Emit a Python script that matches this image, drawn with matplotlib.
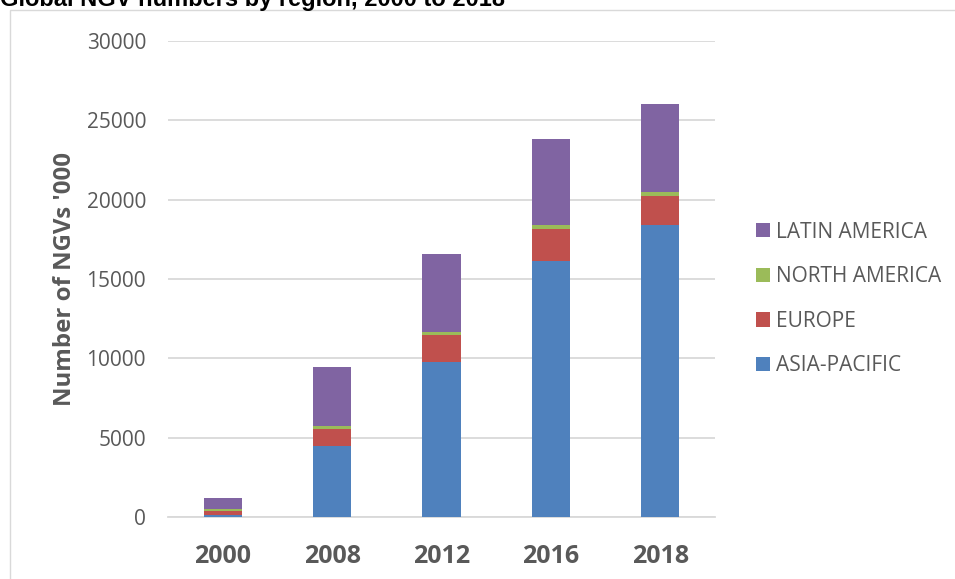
import matplotlib
matplotlib.use("Agg")
import matplotlib.pyplot as plt
from matplotlib.patches import Rectangle
import numpy as np

years = ["2000", "2008", "2012", "2016", "2018"]
asia_pacific = [150, 4480, 9750, 16140, 18400]
europe = [230, 1070, 1740, 2040, 1850]
north_america = [120, 190, 190, 210, 230]
latin_america = [680, 3720, 4880, 5420, 5530]

series = [
    ("ASIA-PACIFIC", asia_pacific, "#4F81BD"),
    ("EUROPE", europe, "#C0504D"),
    ("NORTH AMERICA", north_america, "#9BBB59"),
    ("LATIN AMERICA", latin_america, "#8064A2"),
]

W, H = 955, 579
fig = plt.figure(figsize=(W / 100, H / 100), dpi=100)
ax = fig.add_axes([168 / W, 1 - 517 / H, (715 - 168) / W, (517 - 41) / H])

x = np.arange(len(years))
bottom = np.zeros(len(years))
handles = []
for name, vals, col in series:
    b = ax.bar(x, vals, width=0.35, bottom=bottom, color=col, label=name, zorder=3)
    handles.append(b)
    bottom += np.array(vals)

ax.set_xlim(-0.5, len(years) - 0.5)
ax.set_ylim(0, 30000)
ax.set_yticks(range(0, 30001, 5000))
ax.yaxis.grid(True, color="#D9D9D9", linewidth=1.3, zorder=0)
ax.set_axisbelow(True)
for s in ["top", "right", "left"]:
    ax.spines[s].set_visible(False)
ax.spines["bottom"].set_color("#D9D9D9")
ax.spines["bottom"].set_linewidth(1.3)
ax.tick_params(axis="both", length=0)
ax.tick_params(axis="y", pad=15.8, labelsize=15, labelcolor="#595959")
ax.tick_params(axis="x", pad=19.4, labelcolor="#595959")
ax.set_xticks(x)
ax.set_xticklabels(years, fontsize=18, fontweight="bold", family="Open Sans")
for t in ax.get_yticklabels():
    t.set_family("Open Sans")
ax.set_ylabel("Number of NGVs '000", fontsize=17.3, fontweight="bold",
              color="#595959", family="Open Sans")
ax.yaxis.set_label_coords((77 - 168) / 547, 0.5)

leg = ax.legend(handles=handles[::-1], loc="center left",
                bbox_to_anchor=(746 / W, 1 - 299 / H), bbox_transform=fig.transFigure,
                frameon=False, prop={"family": "Open Sans", "size": 15},
                labelspacing=1.13, handlelength=0.67, handleheight=0.67,
                handletextpad=0.25, borderpad=0)
for t in leg.get_texts():
    t.set_color("#595959")

fig.patches.append(Rectangle((10 / W, -0.1), 1.2, 1 - 10 / H + 0.1,
                             transform=fig.transFigure, fill=False,
                             edgecolor="#D9D9D9", linewidth=1.0, figure=fig))

fig.text(0, 1 - 6 / H, "Global NGV numbers by region, 2000 to 2018",
         fontsize=17, fontweight="bold", family="Liberation Sans",
         ha="left", va="baseline", color="black")

fig.savefig("out.png", dpi=100)
